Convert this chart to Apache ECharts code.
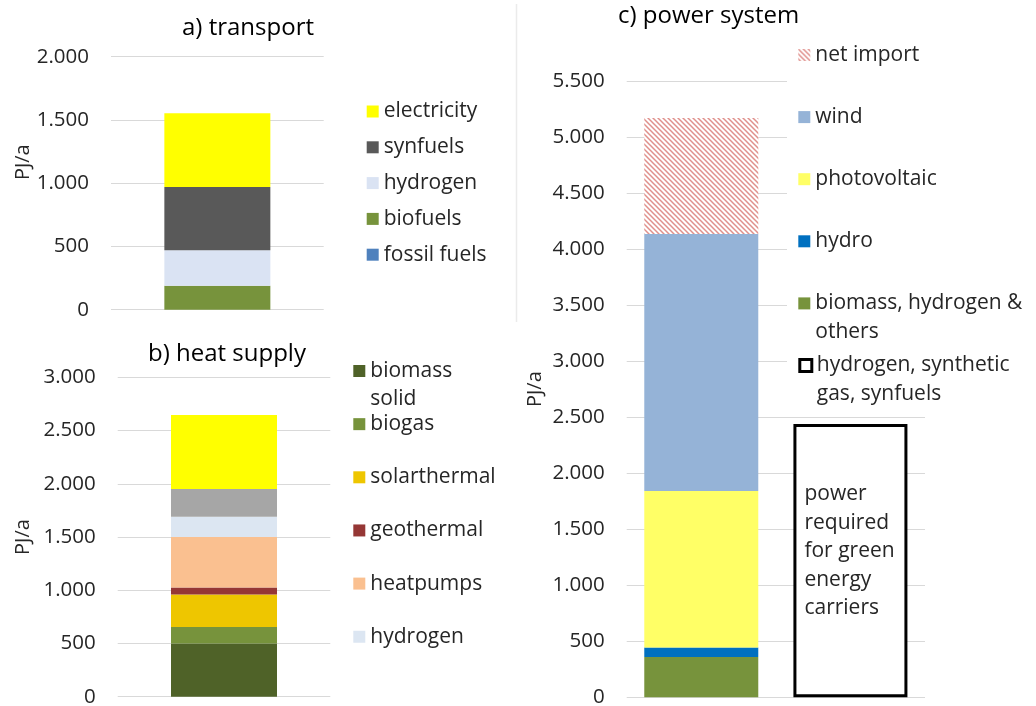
<!DOCTYPE html>
<html><head><meta charset="utf-8">
<script src="https://cdn.jsdelivr.net/npm/echarts@6/dist/echarts.min.js"></script>
<style>html,body{margin:0;padding:0;background:#fff}#c{width:1036px;height:706px}</style>
</head><body><div id="c"></div>
<script>
// ---------- data ----------
const transportCategories = ['transport'];
const transportNames = ['fossil fuels', 'biofuels', 'hydrogen', 'synfuels', 'electricity'];
const transportValues = [0, 190, 280, 500, 582];
const transportLegend = ['electricity', 'synfuels', 'hydrogen', 'biofuels', 'fossil fuels'];
const transportTicks = [0, 500, 1000, 1500, 2000];

const heatCategories = ['heat supply'];
const heatNames = ['biomass solid', 'biogas', 'solarthermal', 'geothermal', 'heatpumps', 'hydrogen ', 'other heat', 'direct electricity'];
const heatValues = [500, 155, 305, 65, 475, 190, 260, 695];
const heatLegend = ['biomass solid', 'biogas', 'solarthermal', 'geothermal', 'heatpumps', 'hydrogen '];
const heatTicks = [0, 500, 1000, 1500, 2000, 2500, 3000];

const powerCategories = ['power generation', 'green energy carriers'];
const powerNames = ['biomass, hydrogen & others', 'hydro', 'photovoltaic', 'wind', 'net import', 'hydrogen, synthetic gas, synfuels'];
const powerValues = [
  [360, '-'],
  [85, '-'],
  [1395, '-'],
  [2295, '-'],
  [1035, '-'],
  ['-', 2440]
];
const powerLegend = ['net import', 'wind', 'photovoltaic', 'hydro', 'biomass, hydrogen & others', 'hydrogen, synthetic gas, synfuels'];
const powerTicks = [0, 500, 1000, 1500, 2000, 2500, 3000, 3500, 4000, 4500, 5000, 5500];
const boxText = 'power\nrequired\nfor green\nenergy\ncarriers';
const titles = ['a) transport', 'b) heat supply', 'c) power system'];
const unitName = 'PJ/a';

// ---------- styles ----------
function hatch() {
  const s = 5, c = document.createElement('canvas');
  c.width = s; c.height = s;
  const g = c.getContext('2d');
  g.fillStyle = '#ffffff'; g.fillRect(0, 0, s, s);
  g.strokeStyle = '#E0908C'; g.lineWidth = 1.5;
  g.beginPath();
  g.moveTo(0, 0); g.lineTo(s, s);
  g.moveTo(-2, s - 2); g.lineTo(2, s + 2);
  g.moveTo(s - 2, -2); g.lineTo(s + 2, 2);
  g.stroke();
  return c;
}
const colorMap = {
  'fossil fuels': '#4F81BD', 'biofuels': '#77933C', 'hydrogen': '#DAE3F3', 'synfuels': '#595959', 'electricity': '#FFFF00',
  'biomass solid': '#4F6228', 'biogas': '#77933C', 'solarthermal': '#EEC600', 'geothermal': '#953735', 'heatpumps': '#FAC090',
  'hydrogen ': '#DCE6F2', 'other heat': '#A6A6A6', 'direct electricity': '#FFFF00',
  'biomass, hydrogen & others': '#77933C', 'hydro': '#0070C0', 'photovoltaic': '#FFFF66', 'wind': '#95B3D7',
  'net import': { image: hatch(), repeat: 'repeat' },
  'hydrogen, synthetic gas, synfuels': '#ffffff'
};
const wrapMap = {
  'biomass solid': 'biomass\nsolid',
  'biomass, hydrogen & others': 'biomass, hydrogen &\nothers',
  'hydrogen, synthetic gas, synfuels': 'hydrogen, synthetic\ngas, synfuels'
};
const FONT = '"Open Sans", "Noto Sans", sans-serif';
const TXT = '#262626';

function fmt(v) { return String(v).replace(/\B(?=(\d{3})+(?!\d))/g, '.'); }

function yAxis(gridIndex, ticks, nameGap, namePad) {
  return {
    type: 'value', gridIndex,
    min: ticks[0], max: ticks[ticks.length - 1], interval: ticks[1] - ticks[0],
    name: unitName, nameLocation: 'middle', nameRotate: 90, nameGap,
    nameTextStyle: { fontFamily: FONT, fontSize: 20, color: TXT, padding: namePad },
    axisLine: { show: false }, axisTick: { show: false },
    axisLabel: { fontFamily: FONT, fontSize: 20.5, color: TXT, margin: 22, formatter: fmt },
    splitLine: { lineStyle: { color: '#D9D9D9', width: 1.2 } }
  };
}
function xAxis(gridIndex, cats) {
  return {
    type: 'category', gridIndex, data: cats,
    axisLine: { show: false }, axisTick: { show: false }, axisLabel: { show: false }, splitLine: { show: false }
  };
}
function legends(names, x, y0, step, L) {
  return names.map((n, i) => {
    const two = !!wrapMap[n];
    const yc = y0 + i * step;
    const lg = {
      data: [n], left: x, top: yc - L / 2,
      orient: 'vertical', padding: 0, itemWidth: 12, itemHeight: 12, icon: 'rect', z: 8,
      selectedMode: false,
      textStyle: { fontFamily: FONT, fontSize: 21, color: TXT, lineHeight: L },
      formatter: (name) => wrapMap[name] || name
    };
    if (two) {
      // square on the first text line: icon box spans both lines, square drawn at its top
      lg.icon = 'path://M0,0L12,0L12,12L0,12Z M0,' + (12 + L);
      lg.itemHeight = 12 + L;
    }
    if (n === 'hydrogen, synthetic gas, synfuels') {
      lg.itemStyle = { color: '#ffffff', borderColor: '#000000', borderWidth: 3 };
    }
    return lg;
  });
}

const series = [];
transportNames.forEach((n, i) => series.push({
  name: n, type: 'bar', stack: 't', xAxisIndex: 0, yAxisIndex: 0, barWidth: 106,
  data: [transportValues[i]], itemStyle: { color: colorMap[n] }
}));
heatNames.forEach((n, i) => series.push({
  name: n, type: 'bar', stack: 'h', xAxisIndex: 1, yAxisIndex: 1, barWidth: 106,
  data: [heatValues[i]], itemStyle: { color: colorMap[n] }
}));
powerNames.forEach((n, i) => {
  const s = {
    name: n, type: 'bar', stack: 'p', xAxisIndex: 2, yAxisIndex: 2, barWidth: 114,
    data: powerValues[i], itemStyle: { color: colorMap[n] }
  };
  if (n === 'hydrogen, synthetic gas, synfuels') {
    s.itemStyle = { color: '#ffffff', borderColor: '#000000', borderWidth: 3 };
    s.label = {
      show: true, position: [11, 56], formatter: boxText,
      fontFamily: FONT, fontSize: 21, lineHeight: 28.5, color: TXT
    };
  }
  series.push(s);
});

const option = {
  animation: false,
  backgroundColor: '#ffffff',
  textStyle: { fontFamily: FONT },
  title: [
    { text: titles[0], left: 182, top: 13, padding: 0, textStyle: { fontFamily: FONT, fontSize: 24, fontWeight: 'normal', color: '#000', lineHeight: 30 } },
    { text: titles[1], left: 148, top: 339, padding: 0, textStyle: { fontFamily: FONT, fontSize: 24, fontWeight: 'normal', color: '#000', lineHeight: 30 } },
    { text: titles[2], left: 618, top: 1, padding: 0, textStyle: { fontFamily: FONT, fontSize: 24, fontWeight: 'normal', color: '#000', lineHeight: 30 } }
  ],
  grid: [
    { left: 111, top: 56.7, width: 212.7, height: 253, outerBoundsMode: 'none', containLabel: false },
    { left: 117.7, top: 377.3, width: 212.6, height: 319.4, outerBoundsMode: 'none', containLabel: false },
    { left: 626.7, top: 81, width: 298.3, height: 616.3, outerBoundsMode: 'none', containLabel: false }
  ],
  xAxis: [xAxis(0, transportCategories), xAxis(1, heatCategories), xAxis(2, powerCategories)],
  yAxis: [yAxis(0, transportTicks, 76, [0, 0, 0, 42]), yAxis(1, heatTicks, 84, 0), yAxis(2, powerTicks, 81, 0)],
  legend: [].concat(
    legends(transportLegend, 366.7, 111.5, 35.8, 28),
    legends(heatLegend, 353.3, 371, 53.15, 28),
    legends(powerLegend, 798.3, 55, 62.1, 28.5)
  ),
  graphic: [
    { type: 'line', z: 1, shape: { x1: 516.5, y1: 4, x2: 516.5, y2: 322 }, style: { stroke: '#EBEBEB', lineWidth: 1.5 } },
    { type: 'rect', z: 3, shape: { x: 787, y: 30, width: 249, height: 378 }, style: { fill: '#ffffff' } }
  ],
  series
};
const chart = echarts.init(document.getElementById('c'), null, { renderer: 'canvas' });
chart.setOption(option);
</script>
</body></html>
